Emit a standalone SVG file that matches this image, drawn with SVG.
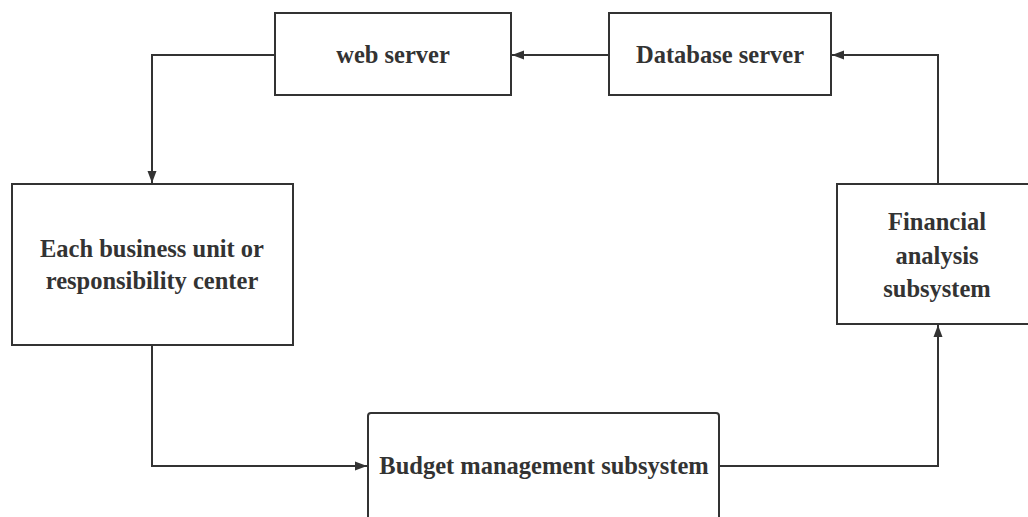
<svg xmlns="http://www.w3.org/2000/svg" width="1028" height="517" viewBox="0 0 1028 517">
<defs>
<style>
.box{fill:#fff;stroke:#333;stroke-width:2}
.t{fill:#333;text-anchor:middle}
.c{fill:none;stroke:#333;stroke-width:2;marker-end:url(#a)}
</style>
<marker id="a" viewBox="0 0 12 10" refX="12" refY="5" markerWidth="12" markerHeight="10" markerUnits="userSpaceOnUse" orient="auto"><path d="M0,0.5L12,5L0,9.5z" fill="#333"/></marker>
</defs>
<rect width="1028" height="517" fill="#fff"/>
<g id="connectors">
<path class="c" d="M609,55H512"/>
<path class="c" d="M275,55H152V183"/>
<path class="c" d="M152,345V466H367"/>
<path class="c" d="M719,466H938V325"/>
<path class="c" d="M938,184V55H832"/>
</g>
<g font-family="Liberation Serif" font-weight="bold" font-size="24.5">
<g id="web-server"><rect class="box" x="275" y="13" width="236" height="82"/><text class="t" x="393" y="63">web server</text></g>
<g id="database-server"><rect class="box" x="609" y="13" width="222" height="82"/><text class="t" x="720" y="63">Database server</text></g>
<g id="business-unit"><rect class="box" x="12" y="184" width="281" height="161"/><text class="t" x="152" y="257">Each business unit or</text><text class="t" x="152" y="289">responsibility center</text></g>
<g id="financial"><rect class="box" x="837" y="184" width="194" height="140"/><text class="t" x="937" y="230">Financial</text><text class="t" x="937" y="264">analysis</text><text class="t" x="937" y="297">subsystem</text></g>
<g id="budget"><rect class="box" x="368" y="413" width="351" height="120" rx="3"/><text class="t" x="544" y="474">Budget management subsystem</text></g>
</g>
</svg>
